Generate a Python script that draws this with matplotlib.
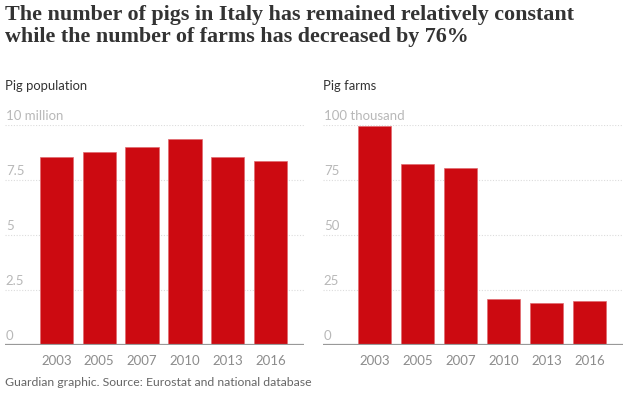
"""Recreate the Guardian chart: pig population vs pig farms in Italy."""

import matplotlib.pyplot as plt
import matplotlib.transforms as mtransforms

years = ["2003", "2005", "2007", "2010", "2013", "2016"]
pig_population = [8.56, 8.76, 9.02, 9.35, 8.56, 8.35]  # million
pig_farms = [99.7, 82.3, 80.5, 20.8, 18.9, 19.8]  # thousand

pop_ticks = [0, 2.5, 5, 7.5, 10]
pop_labels = ["0", "2.5", "5", "7.5", "10 million"]
farm_ticks = [0, 25, 50, 75, 100]
farm_labels = ["0", "25", "50", "75", "100 thousand"]

TITLE = ("The number of pigs in Italy has remained relatively constant\n"
         "while the number of farms has decreased by 76%")
SOURCE = "Guardian graphic. Source: Eurostat and national database"

W, H = 626, 393
RED = "#cc0a11"
SANS = ["Lato", "DejaVu Sans"]


def px_axes(fig, x0, x1, y_top, y_bottom):
    """Add axes given pixel coordinates measured from the top-left."""
    return fig.add_axes([x0 / W, (H - y_bottom) / H, (x1 - x0) / W, (y_bottom - y_top) / H])


def draw_panel(ax, values, ticks, labels, title):
    x = list(range(len(values)))
    ax.bar(x, values, width=0.78, color=RED, edgecolor="#e06a70", linewidth=0.5, zorder=2)
    ax.set_xlim(-1.2, 5.78)
    ax.set_ylim(0, ticks[-1])

    for spine in ax.spines.values():
        spine.set_visible(False)
    ax.set_xticks([])
    ax.set_yticks([])

    ax.axhline(0, color="#999999", linewidth=1.6, zorder=3)
    trans = mtransforms.blended_transform_factory(ax.transAxes, ax.transData)
    offset = mtransforms.ScaledTranslation(0, 3 / 100, ax.figure.dpi_scale_trans)
    for t, lab in zip(ticks, labels):
        if t != 0:
            ax.axhline(t, color="#dcdcdc", linewidth=0.8, linestyle=(0, (1, 1.5)), zorder=1)
        ax.text(0.003, t, lab, transform=trans + offset, ha="left", va="bottom",
                fontsize=9.5, color="#b8b8b8", family=SANS)

    xtrans = mtransforms.blended_transform_factory(ax.transData, ax.transAxes)
    for xi, yr in zip(x, years):
        ax.text(xi, -0.045, yr, transform=xtrans,
                ha="center", va="top", fontsize=9.5, color="#8c8c8c", family=SANS)

    ax.text(0.0, 1.175, title, transform=ax.transAxes, ha="left", va="center",
            fontsize=9.4, color="#333333", family=SANS)


fig = plt.figure(figsize=(W / 100, H / 100), dpi=100)

fig.text(5 / W, 1 - 5 / H, TITLE, ha="left", va="top", fontsize=15.8,
         fontweight="bold", family=["Liberation Serif", "DejaVu Serif"],
         color="#333333", linespacing=1.15)

ax_pop = px_axes(fig, 5, 304, 125, 345)
draw_panel(ax_pop, pig_population, pop_ticks, pop_labels, "Pig population")

ax_farm = px_axes(fig, 323, 623, 125, 345)
draw_panel(ax_farm, pig_farms, farm_ticks, farm_labels, "Pig farms")

fig.text(5 / W, 1 - 383 / H, SOURCE, ha="left", va="center", fontsize=8.8,
         color="#666666", family=SANS)

fig.savefig("out.png", dpi=100)
